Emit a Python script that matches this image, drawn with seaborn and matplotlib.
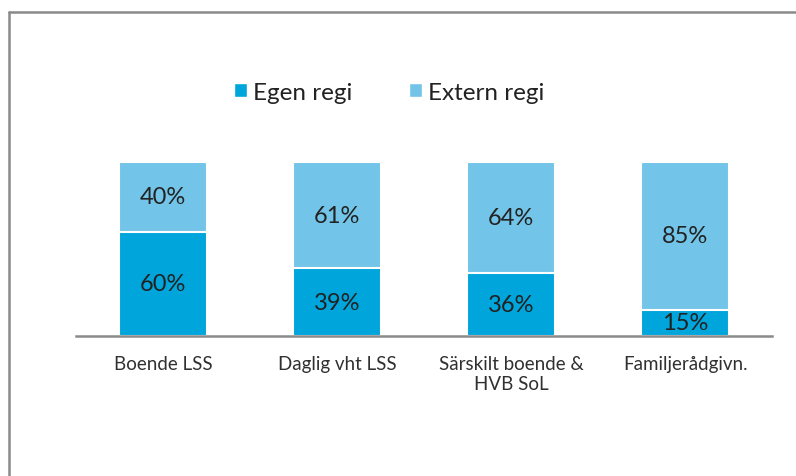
import pandas as pd
import matplotlib.pyplot as plt
import seaborn as sns
from matplotlib.lines import Line2D
from matplotlib.patches import Patch

categories = ["Boende LSS", "Daglig vht LSS", "Särskilt boende &\nHVB SoL", "Familjerådgivn."]
egen = [60, 39, 36, 15]
extern = [40, 61, 64, 85]
series_names = ["Egen regi", "Extern regi"]

DARK = "#00A5DB"
LIGHT = "#72C5E8"

df = pd.DataFrame({"cat": categories, "egen": egen, "extern": extern})
df["total"] = df["egen"] + df["extern"]

sns.set_style("white")
plt.rcParams["font.family"] = ["Lato", "DejaVu Sans"]

fig = plt.figure(figsize=(7.96, 4.77), dpi=100)
ax = fig.add_axes([0.0955, 0.2935, 0.8745, 0.3648])

# stacked: full bar in light, egen on top in dark
sns.barplot(data=df, x="cat", y="total", color=LIGHT, width=0.51,
            edgecolor="white", linewidth=1.5, ax=ax, saturation=1)
sns.barplot(data=df, x="cat", y="egen", color=DARK, width=0.51,
            edgecolor="white", linewidth=1.5, ax=ax, saturation=1)

for i, row in df.iterrows():
    ax.text(i, row["egen"] / 2, f"{row['egen']}%", ha="center", va="center",
            fontsize=17, color="#222222")
    ax.text(i, row["egen"] + row["extern"] / 2, f"{row['extern']}%", ha="center",
            va="center", fontsize=17, color="#222222")

ax.set_xlim(-0.5, 3.5)
ax.set_ylim(0, 100)
ax.set_xlabel("")
ax.set_ylabel("")
ax.set_yticks([])
ax.tick_params(axis="x", length=0, pad=14, labelsize=13.5, labelcolor="#303030")
for s in ["top", "right", "left"]:
    ax.spines[s].set_visible(False)
ax.spines["bottom"].set_color("#8a8a8a")
ax.spines["bottom"].set_linewidth(1.8)

handles = [Patch(facecolor=DARK, label=series_names[0]),
           Patch(facecolor=LIGHT, label=series_names[1])]
fig.legend(handles=handles, loc="center", bbox_to_anchor=(0.489, 0.805), ncol=2,
           frameon=False, fontsize=17.5, handlelength=0.55, handleheight=0.55,
           handletextpad=0.25, columnspacing=2.3, labelcolor="#222222")

# outer chart frame (top and left edges visible)
fig.add_artist(Line2D([0.011, 1.0], [0.973, 0.973], transform=fig.transFigure,
                      color="#8a8a8a", linewidth=1.8))
fig.add_artist(Line2D([0.011, 0.011], [0.0, 0.973], transform=fig.transFigure,
                      color="#8a8a8a", linewidth=1.8))

fig.savefig("out.png", dpi=100)
